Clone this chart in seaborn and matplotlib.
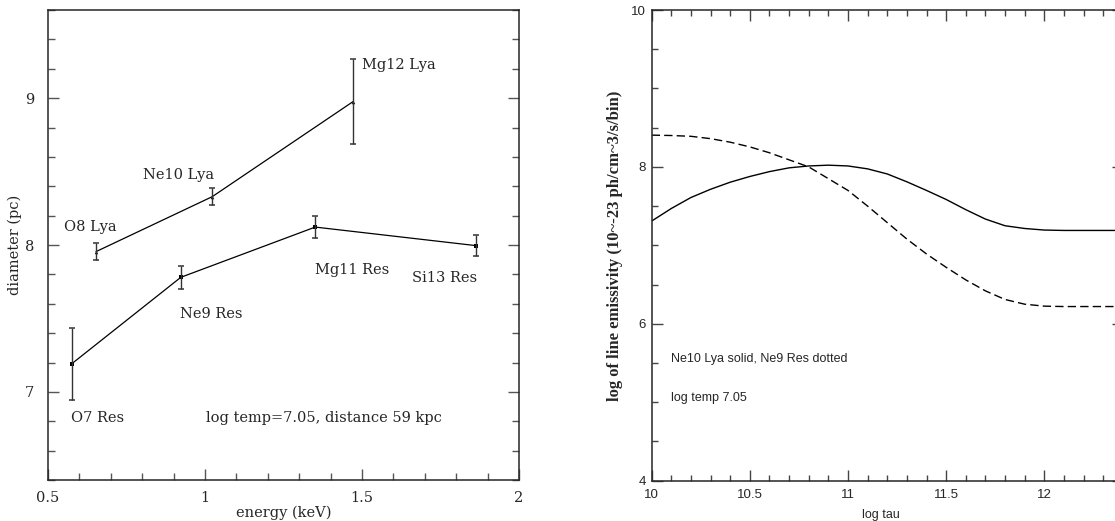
import numpy as np
import pandas as pd
import matplotlib
matplotlib.use("Agg")
import matplotlib.pyplot as plt
import seaborn as sns
from matplotlib.ticker import MultipleLocator

# left panel: line sizes vs energy
lya_names = ["O8 Lya", "Ne10 Lya", "Mg12 Lya"]
lya_energy = [0.653, 1.023, 1.472]
lya_diam = [7.955, 8.329, 8.977]
lya_err = [0.057, 0.056, 0.288]

res_names = ["O7 Res", "Ne9 Res", "Mg11 Res", "Si13 Res"]
res_energy = [0.576, 0.923, 1.351, 1.862]
res_diam = [7.192, 7.780, 8.122, 7.996]
res_err = [0.246, 0.077, 0.076, 0.073]

# label anchor points (data coords) for the line names
lya_label_x = [0.551, 0.801, 1.500]
lya_label_y = [8.125, 8.478, 9.227]
res_label_x = [0.572, 0.920, 1.351, 1.659]
res_label_y = [6.825, 7.531, 7.830, 7.778]

# right panel: emissivity vs log tau
log_tau = [10.0, 10.1, 10.2, 10.3, 10.4, 10.5, 10.6, 10.7, 10.8, 10.9,
           11.0, 11.1, 11.2, 11.3, 11.4, 11.5, 11.6, 11.7, 11.8, 11.9,
           12.0, 12.1, 12.2, 12.3, 12.4]
ne10_lya = [7.31, 7.47, 7.61, 7.715, 7.805, 7.878, 7.94, 7.988, 8.012, 8.022,
            8.012, 7.975, 7.91, 7.81, 7.70, 7.585, 7.455, 7.335, 7.25, 7.215,
            7.195, 7.19, 7.19, 7.19, 7.19]
ne9_res = [8.405, 8.40, 8.39, 8.36, 8.315, 8.255, 8.18, 8.09, 8.00, 7.85,
           7.70, 7.50, 7.29, 7.08, 6.89, 6.72, 6.56, 6.42, 6.31, 6.25,
           6.225, 6.22, 6.22, 6.22, 6.22]

sns.set_theme(style="ticks")
plt.rcParams["font.family"] = ["DejaVu Serif"]
plt.rcParams["axes.linewidth"] = 1.1

fig = plt.figure(figsize=(11.15, 5.21), dpi=100)
W, H = 1115.0, 521.0
ax1 = fig.add_axes([48 / W, 41 / H, 471 / W, 470 / H])
ax2 = fig.add_axes([651.7 / W, 40.3 / H, 471.1 / W, 470.7 / H])

serif = "DejaVu Serif"
sans = "Liberation Sans"

# ---- left panel ----
df_lya = pd.DataFrame({"energy": lya_energy, "diam": lya_diam})
df_res = pd.DataFrame({"energy": res_energy, "diam": res_diam})
sns.lineplot(data=df_lya, x="energy", y="diam", ax=ax1, color="black",
             linewidth=0.9, marker="^", markersize=2.5, markeredgewidth=0,
             sort=False)
sns.lineplot(data=df_res, x="energy", y="diam", ax=ax1, color="black",
             linewidth=0.9, marker="s", markersize=3.2, markeredgewidth=0,
             sort=False)
ax1.errorbar(lya_energy, lya_diam, yerr=lya_err, fmt="none", ecolor="#333333",
             elinewidth=1.0, capsize=2.5, capthick=1.1)
ax1.errorbar(res_energy, res_diam, yerr=res_err, fmt="none", ecolor="#333333",
             elinewidth=1.0, capsize=2.5, capthick=1.1)

for name, tx, ty in zip(lya_names, lya_label_x, lya_label_y):
    ax1.text(tx, ty, name, fontsize=10.5, family=serif, va="center", ha="left")
for name, tx, ty in zip(res_names, res_label_x, res_label_y):
    ax1.text(tx, ty, name, fontsize=10.5, family=serif, va="center", ha="left")
ax1.text(1.003, 6.825, "log temp=7.05, distance 59 kpc", fontsize=10.5,
         family=serif, va="center", ha="left")

ax1.set_xlim(0.5, 2.0)
ax1.set_ylim(6.4, 9.6)
ax1.xaxis.set_major_locator(MultipleLocator(0.5))
ax1.xaxis.set_minor_locator(MultipleLocator(0.1))
ax1.yaxis.set_major_locator(MultipleLocator(1))
ax1.yaxis.set_minor_locator(MultipleLocator(0.2))
ax1.set_xticks([0.5, 1, 1.5, 2], ["0.5", "1", "1.5", "2"])
ax1.set_yticks([7, 8, 9], ["7", "8", "9"])
ax1.tick_params(which="both", direction="in", top=False, right=True,
                color="#555555", labelsize=10.5)
ax1.tick_params(which="major", length=8, width=1.0)
ax1.tick_params(which="minor", length=5, width=1.0)
ax1.tick_params(axis="x", which="major", pad=8)
ax1.tick_params(axis="y", which="major", pad=10)
ax1.set_xlabel("energy (keV)", fontsize=10.5, family=serif)
ax1.set_ylabel("diameter (pc)", fontsize=10.5, family=serif)
ax1.xaxis.set_label_coords(0.5, -0.055)
ax1.yaxis.set_label_coords(-0.055, 0.5)

# ---- right panel ----
df_em = pd.DataFrame({"log_tau": log_tau + log_tau,
                      "emis": ne10_lya + ne9_res,
                      "line": ["Ne10 Lya"] * len(log_tau) + ["Ne9 Res"] * len(log_tau)})
sns.lineplot(data=df_em, x="log_tau", y="emis", style="line", ax=ax2,
             color="black", linewidth=1.0, dashes=[(1, 0), (6, 3)],
             legend=False, sort=False)

ax2.text(10.1, 5.55, "Ne10 Lya solid, Ne9 Res dotted", fontsize=9,
         family=sans, va="center", ha="left")
ax2.text(10.1, 5.05, "log temp 7.05", fontsize=9, family=sans,
         va="center", ha="left")

ax2.set_xlim(10, 12.4)
ax2.set_ylim(4, 10)
ax2.xaxis.set_major_locator(MultipleLocator(0.5))
ax2.xaxis.set_minor_locator(MultipleLocator(0.1))
ax2.yaxis.set_major_locator(MultipleLocator(2))
ax2.yaxis.set_minor_locator(MultipleLocator(0.5))
ax2.set_xticks([10, 10.5, 11, 11.5, 12], ["10", "10.5", "11", "11.5", "12"])
ax2.set_yticks([4, 6, 8, 10], ["4", "6", "8", "10"])
ax2.tick_params(which="both", direction="in", top=True, right=True,
                color="#444444", labelsize=9.5)
for lab in ax2.get_xticklabels() + ax2.get_yticklabels():
    lab.set_family(sans)
ax2.tick_params(which="major", length=8, width=1.0)
ax2.tick_params(which="minor", length=4, width=1.0)
ax2.tick_params(axis="x", which="major", pad=6)
ax2.tick_params(axis="y", which="major", pad=4)
ax2.set_xlabel("log tau", fontsize=9, family=sans)
ax2.set_ylabel("log of line emissivity (10~-23 ph/cm~3/s/bin)", fontsize=12,
               family="Liberation Serif", fontweight="bold")
ax2.xaxis.set_label_coords(0.487, -0.06)
ax2.yaxis.set_label_coords(-0.061, 0.5)

fig.savefig("out.png", dpi=100)
